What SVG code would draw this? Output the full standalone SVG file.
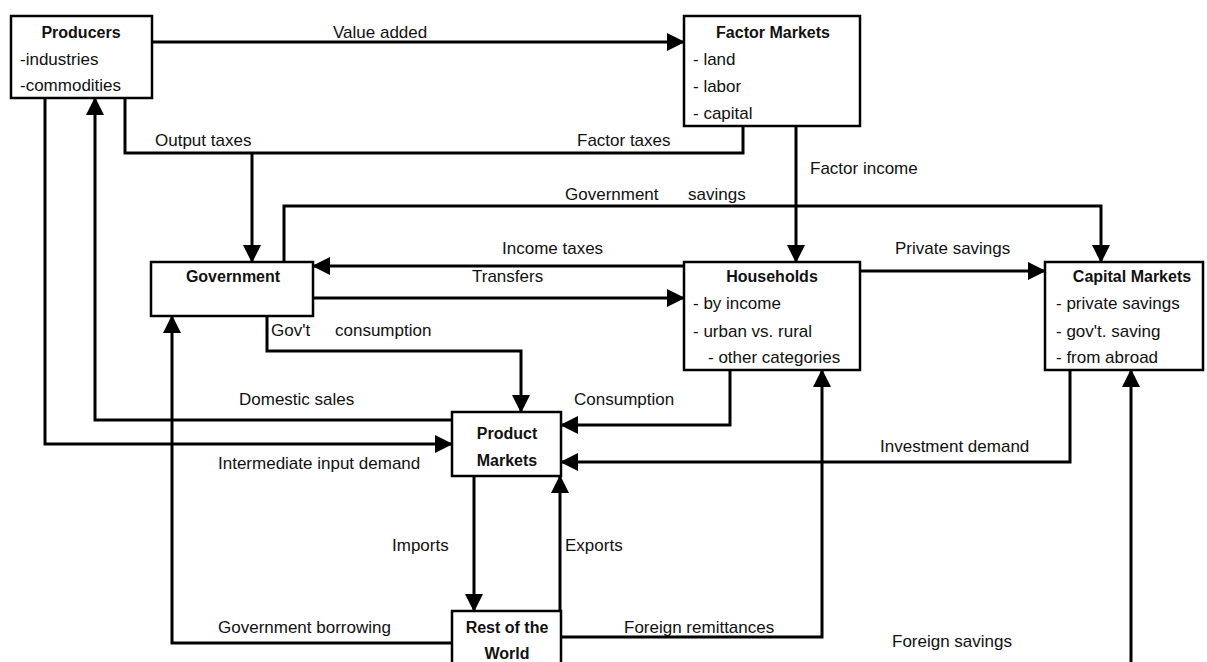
<svg xmlns="http://www.w3.org/2000/svg" width="1207" height="662" viewBox="0 0 1207 662">
<defs>
<marker id="arr" markerUnits="userSpaceOnUse" markerWidth="18" markerHeight="18" viewBox="0 0 18 18" refX="17" refY="9" orient="auto">
<path d="M0,0 L18,9 L0,18 z" fill="#000"/>
</marker>
<style>
.box{fill:#fff;stroke:#000;stroke-width:2.5}
.c{fill:none;stroke:#000;stroke-width:3;marker-end:url(#arr)}
.n{fill:none;stroke:#000;stroke-width:3}
text{font-family:"Liberation Sans",Arial,sans-serif;font-size:17px;fill:#111}
.b{font-weight:bold;font-size:16px;text-anchor:middle}
</style>
</defs>
<rect width="1207" height="662" fill="#fff"/>
<g id="connectors">
<path class="c" d="M152,42 H684"/>
<path class="n" d="M743,126 V153 H125 V98"/>
<path class="c" d="M252,153 V262"/>
<path class="c" d="M796,126 V262"/>
<path class="c" d="M284,262 V206 H1101 V262"/>
<path class="c" d="M684,266 H313"/>
<path class="c" d="M313,298 H684"/>
<path class="c" d="M860,271 H1045"/>
<path class="c" d="M267,316 V351 H521 V412"/>
<path class="c" d="M452,420 H95 V98"/>
<path class="c" d="M45,98 V444 H452"/>
<path class="c" d="M730,370 V425 H561"/>
<path class="c" d="M1070,370 V462 H561"/>
<path class="c" d="M474,476 V611"/>
<path class="c" d="M560,611 V476"/>
<path class="c" d="M452,643 H172 V316"/>
<path class="c" d="M561,637 H822 V370"/>
<path class="c" d="M1131,662 V370"/>
<text x="333" y="38">Value added</text>
<text x="155" y="146">Output taxes</text>
<text x="577" y="146">Factor taxes</text>
<text x="810" y="174">Factor income</text>
<text x="565" y="200">Government</text>
<text x="688" y="200">savings</text>
<text x="502" y="254">Income taxes</text>
<text x="472" y="282">Transfers</text>
<text x="895" y="254">Private savings</text>
<text x="271" y="336">Gov't</text>
<text x="335" y="336">consumption</text>
<text x="239" y="405">Domestic sales</text>
<text x="574" y="405">Consumption</text>
<text x="218" y="469">Intermediate input demand</text>
<text x="880" y="452">Investment demand</text>
<text x="392" y="551">Imports</text>
<text x="565" y="551">Exports</text>
<text x="218" y="633">Government borrowing</text>
<text x="624" y="633">Foreign remittances</text>
<text x="892" y="647">Foreign savings</text>
</g>
<g id="producers">
<rect class="box" x="11" y="16" width="141" height="82"/>
<text class="b" x="81" y="38">Producers</text>
<text x="20" y="65">-industries</text>
<text x="20" y="91">-commodities</text>
</g>
<g id="factor-markets">
<rect class="box" x="684" y="16" width="176" height="110"/>
<text class="b" x="773" y="38">Factor Markets</text>
<text x="693" y="65">- land</text>
<text x="693" y="92">- labor</text>
<text x="693" y="119">- capital</text>
</g>
<g id="government">
<rect class="box" x="151" y="262" width="162" height="54"/>
<text class="b" x="233" y="282">Government</text>
</g>
<g id="households">
<rect class="box" x="684" y="262" width="176" height="108"/>
<text class="b" x="772" y="282">Households</text>
<text x="693" y="309">- by income</text>
<text x="693" y="337">- urban vs. rural</text>
<text x="708" y="363">- other categories</text>
</g>
<g id="capital-markets">
<rect class="box" x="1045" y="262" width="158" height="108"/>
<text class="b" x="1132" y="282">Capital Markets</text>
<text x="1056" y="309">- private savings</text>
<text x="1056" y="337">- gov't. saving</text>
<text x="1056" y="363">- from abroad</text>
</g>
<g id="product-markets">
<rect class="box" x="452" y="412" width="109" height="64"/>
<text class="b" x="507" y="439">Product</text>
<text class="b" x="507" y="466">Markets</text>
</g>
<g id="rest-of-world">
<rect class="box" x="452" y="611" width="109" height="60"/>
<text class="b" x="507" y="633">Rest of the</text>
<text class="b" x="507" y="659">World</text>
</g>
</svg>
